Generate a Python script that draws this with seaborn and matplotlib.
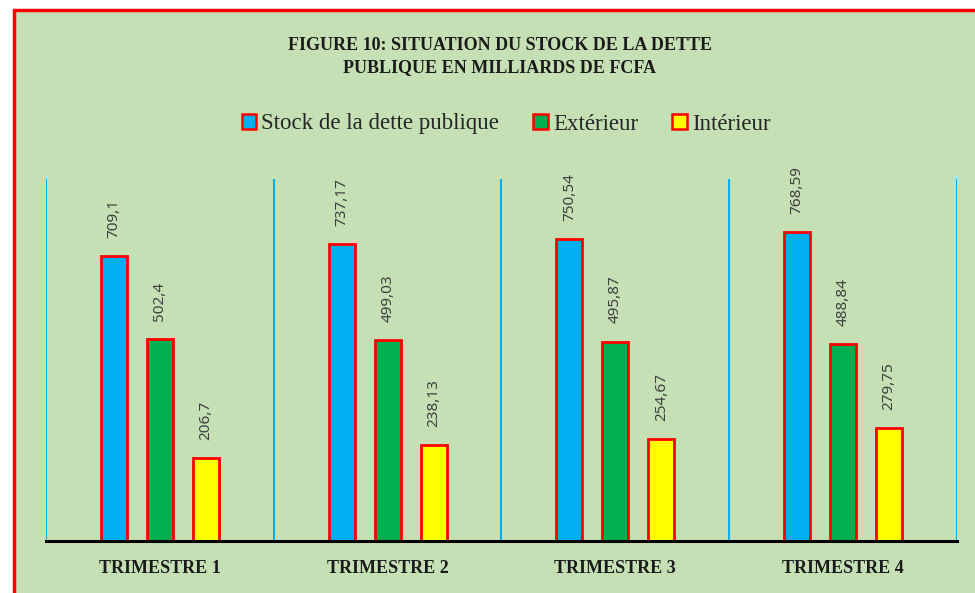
import seaborn as sns
import pandas as pd
import matplotlib.pyplot as plt
from matplotlib.patches import Rectangle, Patch

# Values (milliards de FCFA)
trimestres = ["TRIMESTRE 1", "TRIMESTRE 2", "TRIMESTRE 3", "TRIMESTRE 4"]
series = ["Stock de la dette publique", "Extérieur", "Intérieur"]
stock = [709.1, 737.17, 750.54, 768.59]
exterieur = [502.4, 499.03, 495.87, 488.84]
interieur = [206.7, 238.13, 254.67, 279.75]

colors = ["#00B0F0", "#00B050", "#FFFF00"]
bg = "#C5E0B4"

rows = []
for name, vals in zip(series, [stock, exterieur, interieur]):
    for t, v in zip(trimestres, vals):
        rows.append([t, name, v])
df = pd.DataFrame(rows, columns=["Trimestre", "Série", "Valeur"])

sns.set_style("white")
plt.rcParams["font.family"] = ["Liberation Serif", "DejaVu Serif"]

fig = plt.figure(figsize=(9.75, 5.93), dpi=100, facecolor="white")
fig.patches.append(Rectangle((14 / 975, -0.05), 1.0, 1 - 10 / 593 + 0.05,
                             transform=fig.transFigure, facecolor=bg,
                             edgecolor="#FF0000", linewidth=2.5, zorder=-1))

ax = fig.add_axes([46 / 975, 52 / 593, (957 - 46) / 975, (541 - 179) / 593])
ax.set_facecolor("none")

sns.barplot(data=df, x="Trimestre", y="Valeur", hue="Série", palette=colors,
            saturation=1, width=0.605, gap=0.435, edgecolor="#FF0000",
            linewidth=2, ax=ax, legend=False)

ax.set_ylim(0, 900)
ax.set_xlim(-0.5, 3.5)
for xv in [-0.5, 0.5, 1.5, 2.5, 3.5]:
    ax.axvline(xv, color="#00B0F0", linewidth=1.5, zorder=0)

for c, vals in zip(ax.containers, [stock, exterieur, interieur]):
    labels = [f"{v:g}".replace(".", ",") for v in vals]
    ax.bar_label(c, labels=labels, rotation=90, padding=13, fontsize=11,
                 color="#404040", family=["Noto Sans", "DejaVu Sans"])

for s in ["top", "left", "right"]:
    ax.spines[s].set_visible(False)
ax.spines["bottom"].set_color("black")
ax.spines["bottom"].set_linewidth(2.2)
ax.set_yticks([])
ax.set_xlabel("")
ax.set_ylabel("")
ax.tick_params(axis="x", length=0, pad=14)
for lbl in ax.get_xticklabels():
    lbl.set_fontweight("bold")
    lbl.set_fontsize(13)
    lbl.set_color("#1a1a1a")

fig.text(500 / 975, 1 - 45 / 593, "FIGURE 10: SITUATION DU STOCK DE LA DETTE",
         ha="center", va="center", fontsize=13, fontweight="bold", color="#1a1a1a")
fig.text(500 / 975, 1 - 68 / 593, "PUBLIQUE EN MILLIARDS DE FCFA",
         ha="center", va="center", fontsize=13, fontweight="bold", color="#1a1a1a")

handles = [Patch(facecolor=col, edgecolor="#FF0000", linewidth=1.8) for col in colors]
fig.legend(handles, series, loc="center", bbox_to_anchor=(506 / 975, 1 - 124 / 593),
           ncol=3, frameon=False, fontsize=16.5, handlelength=0.65, handleheight=0.65,
           handletextpad=0.2, columnspacing=1.5)

plt.savefig("out.png", dpi=100, facecolor="white")
